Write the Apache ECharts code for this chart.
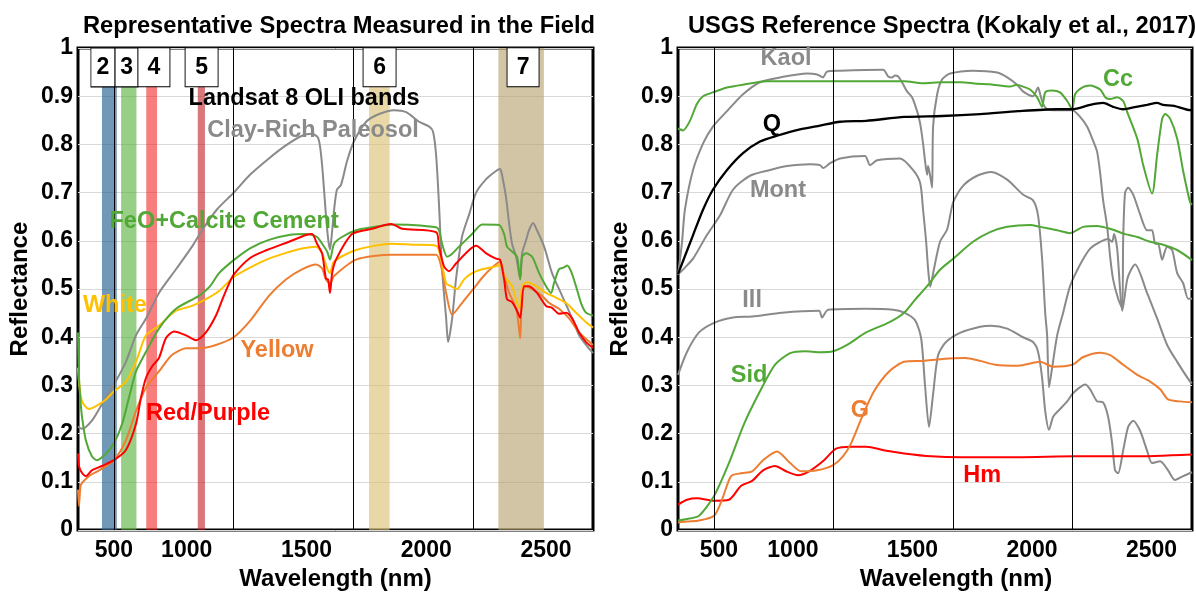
<!DOCTYPE html>
<html>
<head>
<meta charset="utf-8">
<script src="https://cdn.jsdelivr.net/npm/echarts@6/dist/echarts.min.js"></script>
<style>
  html, body { margin: 0; padding: 0; background: #fff; }
  #chart { width: 1196px; height: 596px; }
</style>
</head>
<body>
<div id="chart"></div>
<script>
// ---------- data: wavelength (nm) / reflectance pairs ----------
const WL_TICKS = [500, 1000, 1500, 2000, 2500];
const WL_GUIDES = [500, 1000, 1500, 2000];

// field spectra
const PALEOSOL = [[350,0.215],[367,0.21],[408,0.227],[450,0.261],[500,0.302],[550,0.349],[592,0.404],[634,0.439],[688,0.492],[759,0.541],[826,0.588],[868,0.622],[930,0.665],[1000,0.70],[1070,0.738],[1147,0.771],[1218,0.798],[1285,0.818],[1327,0.822],[1352,0.814],[1362,0.79],[1372,0.74],[1384,0.66],[1394,0.605],[1402,0.582],[1410,0.615],[1420,0.668],[1431,0.706],[1448,0.716],[1473,0.765],[1502,0.806],[1553,0.847],[1607,0.863],[1669,0.871],[1720,0.867],[1774,0.847],[1816,0.837],[1832,0.827],[1845,0.778],[1857,0.676],[1870,0.54],[1887,0.439],[1895,0.39],[1912,0.439],[1928,0.52],[1953,0.608],[1983,0.655],[2012,0.70],[2054,0.728],[2095,0.745],[2112,0.749],[2120,0.737],[2137,0.69],[2150,0.635],[2162,0.594],[2179,0.567],[2196,0.522],[2204,0.574],[2221,0.602],[2233,0.622],[2250,0.637],[2266,0.622],[2296,0.588],[2329,0.533],[2371,0.486],[2413,0.439],[2442,0.404],[2471,0.384],[2500,0.367]];
const CEMENT = [[350,0.41],[354,0.32],[360,0.27],[367,0.234],[383,0.186],[408,0.153],[429,0.145],[467,0.159],[500,0.18],[534,0.22],[563,0.275],[592,0.329],[634,0.37],[688,0.418],[759,0.459],[855,0.486],[900,0.505],[939,0.533],[1000,0.56],[1070,0.585],[1147,0.602],[1231,0.612],[1302,0.614],[1348,0.608],[1369,0.594],[1390,0.578],[1402,0.561],[1419,0.594],[1452,0.608],[1511,0.622],[1578,0.628],[1661,0.634],[1745,0.633],[1845,0.628],[1857,0.622],[1870,0.594],[1891,0.567],[1907,0.571],[1941,0.588],[1995,0.614],[2037,0.634],[2108,0.633],[2129,0.614],[2141,0.588],[2162,0.578],[2183,0.567],[2196,0.52],[2204,0.567],[2221,0.574],[2246,0.567],[2275,0.533],[2304,0.506],[2325,0.492],[2337,0.512],[2358,0.541],[2379,0.545],[2392,0.549],[2408,0.537],[2429,0.506],[2450,0.471],[2471,0.451],[2500,0.445]];
const RED_PURPLE = [[350,0.159],[354,0.133],[365,0.12],[383,0.112],[408,0.124],[450,0.133],[500,0.145],[550,0.166],[592,0.22],[613,0.275],[634,0.316],[660,0.34],[688,0.357],[717,0.398],[751,0.412],[801,0.404],[843,0.394],[884,0.41],[926,0.445],[950,0.475],[975,0.505],[1000,0.53],[1070,0.565],[1139,0.581],[1231,0.598],[1302,0.612],[1327,0.614],[1348,0.594],[1369,0.574],[1385,0.522],[1394,0.52],[1402,0.492],[1411,0.533],[1427,0.561],[1494,0.614],[1578,0.625],[1657,0.635],[1703,0.625],[1845,0.618],[1857,0.588],[1878,0.547],[1899,0.537],[1928,0.553],[1983,0.581],[2012,0.59],[2054,0.574],[2095,0.563],[2112,0.561],[2129,0.52],[2141,0.479],[2162,0.473],[2179,0.459],[2196,0.44],[2212,0.506],[2233,0.506],[2266,0.492],[2304,0.465],[2329,0.461],[2358,0.449],[2388,0.451],[2413,0.439],[2442,0.41],[2471,0.39],[2500,0.378]];
const WHITE = [[350,0.337],[354,0.308],[367,0.267],[396,0.251],[425,0.257],[467,0.271],[500,0.288],[550,0.308],[592,0.349],[634,0.404],[688,0.424],[759,0.455],[826,0.465],[884,0.479],[939,0.496],[1000,0.525],[1070,0.545],[1147,0.563],[1218,0.575],[1285,0.584],[1344,0.588],[1369,0.574],[1390,0.543],[1402,0.533],[1419,0.557],[1511,0.581],[1661,0.594],[1745,0.592],[1845,0.59],[1866,0.561],[1887,0.512],[1907,0.506],[1932,0.50],[1962,0.52],[1995,0.533],[2037,0.541],[2095,0.547],[2112,0.551],[2129,0.527],[2162,0.506],[2183,0.471],[2196,0.459],[2204,0.506],[2225,0.514],[2262,0.506],[2304,0.492],[2346,0.482],[2388,0.471],[2429,0.451],[2471,0.431],[2500,0.42]];
const YELLOW = [[350,0.084],[354,0.05],[360,0.09],[367,0.098],[396,0.112],[438,0.124],[500,0.145],[550,0.186],[592,0.247],[634,0.296],[688,0.329],[742,0.363],[801,0.377],[855,0.377],[926,0.384],[1000,0.40],[1070,0.435],[1147,0.486],[1218,0.52],[1285,0.541],[1344,0.551],[1369,0.543],[1385,0.52],[1402,0.512],[1419,0.527],[1511,0.561],[1661,0.571],[1845,0.571],[1866,0.547],[1887,0.492],[1912,0.447],[1953,0.471],[2000,0.50],[2040,0.525],[2080,0.545],[2112,0.557],[2129,0.527],[2150,0.492],[2170,0.471],[2183,0.451],[2196,0.398],[2204,0.492],[2221,0.506],[2246,0.50],[2287,0.486],[2317,0.471],[2358,0.459],[2400,0.439],[2442,0.41],[2500,0.384]];

// Landsat 8 OLI band limits (nm) and their numbers
const OLI_BANDS = [[450,512],[530,594],[635,680],[850,880],[1565,1651],[2105,2295]];
const OLI_NUMS = ['2','3','4','5','6','7'];
const OLI_TAG_WL = [454,553,667,866,1609,2208];

// USGS library spectra
const KAOL = [[350,0.53],[358,0.56],[367,0.598],[379,0.665],[413,0.747],[455,0.802],[496,0.837],[555,0.869],[622,0.904],[693,0.929],[777,0.939],[890,0.947],[932,0.945],[957,0.939],[973,0.951],[1028,0.953],[1208,0.955],[1229,0.941],[1245,0.939],[1258,0.943],[1271,0.941],[1287,0.929],[1308,0.91],[1329,0.898],[1350,0.869],[1363,0.843],[1375,0.802],[1383,0.767],[1392,0.737],[1396,0.755],[1404,0.737],[1413,0.71],[1417,0.837],[1434,0.904],[1455,0.935],[1488,0.947],[1584,0.953],[1685,0.949],[1727,0.939],[1768,0.924],[1793,0.91],[1835,0.9],[1856,0.918],[1865,0.904],[1877,0.884],[1894,0.873],[1936,0.871],[1999,0.871],[2032,0.857],[2061,0.837],[2086,0.808],[2103,0.785],[2116,0.74],[2128,0.685],[2145,0.63],[2158,0.565],[2170,0.52],[2191,0.48],[2208,0.46],[2212,0.6],[2220,0.70],[2233,0.71],[2254,0.696],[2283,0.655],[2312,0.622],[2333,0.622],[2346,0.594],[2358,0.594],[2375,0.561],[2396,0.588],[2417,0.581],[2438,0.533],[2463,0.512],[2484,0.48],[2500,0.48]];
const MONT = [[350,0.53],[380,0.545],[413,0.563],[471,0.612],[526,0.653],[580,0.706],[651,0.735],[735,0.747],[806,0.755],[902,0.759],[944,0.757],[957,0.751],[986,0.761],[1028,0.771],[1132,0.776],[1153,0.757],[1183,0.767],[1279,0.771],[1333,0.747],[1363,0.72],[1375,0.665],[1388,0.598],[1396,0.543],[1405,0.505],[1420,0.54],[1446,0.598],[1476,0.624],[1501,0.68],[1542,0.714],[1601,0.735],[1660,0.743],[1727,0.727],[1793,0.696],[1835,0.684],[1856,0.653],[1873,0.563],[1886,0.45],[1894,0.404],[1902,0.296],[1915,0.337],[1936,0.404],[1961,0.451],[1990,0.506],[2032,0.551],[2074,0.584],[2116,0.598],[2149,0.604],[2166,0.598],[2174,0.614],[2187,0.584],[2199,0.5],[2208,0.455],[2229,0.52],[2245,0.54],[2262,0.551],[2312,0.492],[2354,0.439],[2396,0.384],[2438,0.349],[2492,0.308],[2500,0.305]];
const ILL = [[350,0.322],[388,0.37],[438,0.41],[501,0.43],[580,0.441],[660,0.443],[785,0.451],[940,0.455],[952,0.441],[978,0.457],[1137,0.459],[1250,0.457],[1296,0.451],[1342,0.435],[1367,0.398],[1383,0.302],[1400,0.214],[1417,0.282],[1438,0.363],[1471,0.39],[1534,0.41],[1614,0.422],[1660,0.424],[1727,0.418],[1793,0.40],[1835,0.39],[1856,0.37],[1873,0.316],[1886,0.247],[1902,0.208],[1919,0.235],[1940,0.247],[1978,0.267],[1999,0.282],[2020,0.292],[2053,0.302],[2074,0.292],[2103,0.267],[2128,0.265],[2149,0.235],[2166,0.18],[2178,0.124],[2191,0.118],[2212,0.165],[2233,0.214],[2254,0.227],[2283,0.206],[2312,0.165],[2333,0.139],[2367,0.143],[2400,0.124],[2429,0.104],[2463,0.112],[2500,0.12]];
const SID = [[350,0.02],[388,0.023],[438,0.03],[501,0.071],[563,0.139],[626,0.22],[693,0.288],[756,0.343],[819,0.367],[881,0.371],[944,0.369],[999,0.371],[1057,0.384],[1137,0.41],[1233,0.431],[1296,0.451],[1342,0.478],[1392,0.506],[1446,0.54],[1501,0.563],[1584,0.598],[1655,0.618],[1727,0.629],[1823,0.633],[1865,0.629],[1936,0.622],[1990,0.616],[2045,0.629],[2103,0.631],[2158,0.625],[2220,0.614],[2271,0.608],[2325,0.598],[2379,0.592],[2438,0.581],[2500,0.56]];
const GOETHITE = [[350,0.016],[388,0.018],[438,0.02],[501,0.03],[534,0.063],[572,0.112],[614,0.118],[660,0.122],[706,0.145],[764,0.163],[819,0.139],[865,0.122],[932,0.124],[999,0.135],[1040,0.153],[1074,0.18],[1120,0.235],[1170,0.288],[1233,0.329],[1296,0.349],[1375,0.351],[1455,0.355],[1551,0.357],[1614,0.351],[1676,0.343],[1773,0.341],[1865,0.349],[1919,0.339],[1999,0.343],[2045,0.359],[2116,0.368],[2158,0.363],[2212,0.343],[2271,0.322],[2325,0.308],[2367,0.292],[2400,0.271],[2450,0.267],[2500,0.265]];
const HEMATITE = [[350,0.053],[388,0.063],[430,0.066],[501,0.061],[563,0.063],[614,0.092],[660,0.102],[706,0.124],[756,0.133],[802,0.122],[852,0.114],[898,0.122],[961,0.145],[1011,0.169],[1074,0.173],[1137,0.173],[1216,0.165],[1296,0.159],[1409,0.153],[1534,0.151],[1773,0.151],[2011,0.153],[2250,0.153],[2500,0.157]];
const CALCITE = [[350,0.833],[371,0.829],[400,0.849],[429,0.884],[455,0.90],[496,0.908],[555,0.918],[622,0.924],[722,0.931],[1028,0.931],[1296,0.931],[1375,0.927],[1455,0.929],[1534,0.929],[1600,0.926],[1655,0.925],[1739,0.92],[1768,0.924],[1793,0.92],[1823,0.914],[1852,0.898],[1873,0.878],[1886,0.908],[1915,0.912],[1948,0.908],[1978,0.89],[1999,0.873],[2011,0.904],[2040,0.918],[2074,0.922],[2116,0.914],[2137,0.898],[2158,0.894],[2187,0.898],[2212,0.89],[2229,0.867],[2271,0.812],[2296,0.757],[2333,0.698],[2354,0.778],[2375,0.853],[2388,0.863],[2409,0.853],[2438,0.812],[2463,0.745],[2492,0.68],[2500,0.675]];
const QUARTZ = [[350,0.531],[413,0.612],[455,0.665],[496,0.706],[555,0.747],[622,0.782],[693,0.806],[764,0.818],[860,0.831],[944,0.839],[1028,0.847],[1137,0.849],[1296,0.857],[1455,0.859],[1614,0.863],[1773,0.869],[1932,0.873],[1999,0.873],[2074,0.882],[2128,0.886],[2170,0.878],[2212,0.873],[2266,0.878],[2312,0.882],[2354,0.886],[2379,0.882],[2425,0.88],[2492,0.871],[2500,0.872]];

// ---------- styling ----------
const FONT = "'Liberation Sans', Arial, sans-serif";
const GRAY = '#8a8a8a', GREEN = '#52a836', RED = '#ff0000', GOLD = '#ffc000', ORANGE = '#ed7d31';
const BAND_COLORS = ['rgba(40,100,145,0.66)','rgba(77,172,47,0.58)','rgba(242,20,20,0.55)','rgba(188,22,27,0.58)','rgba(217,190,110,0.6)','rgba(178,158,105,0.6)'];
const TAG_WIDTHS = [24, 23, 32, 33, 33, 32];

// in-plot captions: [text, wavelength, reflectance, colour]
const LEFT_CAPTIONS = [
  ['Landsat 8 OLI bands', 1294, 0.896, '#000'],
  ['Clay-Rich Paleosol', 1331, 0.829, GRAY],
  ['FeO+Calcite Cement', 960, 0.641, GREEN],
  ['White', 504, 0.465, GOLD],
  ['Yellow', 1181, 0.373, ORANGE],
  ['Red/Purple', 893, 0.241, RED]
];
const RIGHT_CAPTIONS = [
  ['Kaol', 802, 0.978, GRAY],
  ['Cc', 2191, 0.935, GREEN],
  ['Q', 743, 0.841, '#000'],
  ['Mont', 768, 0.704, GRAY],
  ['Ill', 660, 0.476, GRAY],
  ['Sid', 647, 0.320, GREEN],
  ['G', 1111, 0.249, ORANGE],
  ['Hm', 1622, 0.114, RED]
];

const txt = (size, color) => ({ fontFamily: FONT, fontWeight: 'bold', fontSize: size, color: color || '#000' });

function xAxisFor(idx, shiftRich, nameShift) {
  return {
    type: 'value', gridIndex: idx, min: 350, max: 2500, interval: 50,
    axisLine: { show: false }, axisTick: { show: false }, splitLine: { show: false },
    axisLabel: Object.assign(txt(23), {
      margin: 9,
      formatter: v => {
        if (WL_TICKS.indexOf(v) < 0) return '';
        return v === 500 ? '{a|' + v + '}' : '{b|' + v + '}';
      },
      rich: shiftRich
    }),
    name: 'Wavelength (nm)', nameLocation: 'middle', nameGap: 36,
    nameTextStyle: Object.assign(txt(24), { padding: nameShift })
  };
}
function yAxisFor(idx) {
  return {
    type: 'value', gridIndex: idx, min: 0, max: 1, interval: 0.1,
    axisLine: { show: false }, axisTick: { show: false },
    splitLine: { show: true, lineStyle: { color: '#d9d9d9', width: 1 } },
    axisLabel: Object.assign(txt(23), { margin: 5, formatter: v => String(Math.round(v * 10) / 10) }),
    name: 'Reflectance', nameLocation: 'middle', nameGap: 46,
    nameTextStyle: txt(24)
  };
}
function curve(idx, data, color, width) {
  return {
    type: 'line', xAxisIndex: idx, yAxisIndex: idx, data: data,
    showSymbol: false, smooth: 0.25, z: 3,
    lineStyle: { color: color, width: width || 2 }, emphasis: { disabled: true }
  };
}
function guides(idx) {
  return {
    type: 'line', xAxisIndex: idx, yAxisIndex: idx, data: [], z: 2, silent: true,
    markLine: {
      silent: true, symbol: 'none', label: { show: false }, animation: false,
      lineStyle: { color: '#000', width: 1, type: 'solid' },
      data: WL_GUIDES.map(v => ({ xAxis: v }))
    }
  };
}
function captions(idx, list) {
  return {
    type: 'scatter', xAxisIndex: idx, yAxisIndex: idx, symbolSize: 0, z: 10, silent: true,
    itemStyle: { opacity: 1 },
    data: list.map(c => ({
      value: [c[1], c[2]],
      label: { show: true, position: 'inside', opacity: 1, formatter: c[0], ...txt(23.5, c[3]) }
    }))
  };
}

const option = {
  animation: false,
  backgroundColor: '#fff',
  title: [
    { text: 'Representative Spectra Measured in the Field', left: 334, top: 9, textAlign: 'center', textStyle: txt(23.7) },
    { text: 'USGS Reference Spectra (Kokaly et al., 2017)', left: 937, top: 9, textAlign: 'center', textStyle: txt(23.7) }
  ],
  grid: [
    { left: 78, top: 48, width: 515, height: 490, show: true, borderColor: '#000', borderWidth: 3, backgroundColor: 'transparent' },
    { left: 678, top: 48, width: 514, height: 490, show: true, borderColor: '#000', borderWidth: 3, backgroundColor: 'transparent' }
  ],
  xAxis: [
    xAxisFor(0, { a: txt(23), b: Object.assign(txt(23), { padding: [0, 94, 0, 0] }) }, [0, 0, 0, 0]),
    xAxisFor(1, { a: Object.assign(txt(23), { padding: [0, 0, 0, 10] }), b: Object.assign(txt(23), { padding: [0, 81, 0, 0] }) }, [0, 0, 0, 42])
  ],
  yAxis: [yAxisFor(0), yAxisFor(1)],
  series: [
    guides(0),
    curve(0, PALEOSOL, GRAY),
    curve(0, YELLOW, ORANGE),
    curve(0, WHITE, GOLD),
    curve(0, CEMENT, GREEN),
    curve(0, RED_PURPLE, RED),
    {
      // Landsat 8 OLI band windows
      type: 'line', xAxisIndex: 0, yAxisIndex: 0, data: [], z: 4, silent: true,
      markArea: {
        silent: true,
        data: OLI_BANDS.map((b, i) => [
          { xAxis: b[0], itemStyle: { color: BAND_COLORS[i] } },
          { xAxis: b[1] }
        ])
      }
    },
    {
      // band number tags
      type: 'scatter', xAxisIndex: 0, yAxisIndex: 0, z: 8, silent: true,
      symbol: 'rect',
      data: OLI_NUMS.map((n, i) => ({
        value: [OLI_TAG_WL[i], 0.96], name: n,
        symbolSize: [TAG_WIDTHS[i], 39]
      })),
      itemStyle: { color: '#fff', borderColor: '#000', borderWidth: 1, opacity: 1 },
      label: Object.assign(txt(23), { show: true, position: 'inside', formatter: p => p.name })
    },
    captions(0, LEFT_CAPTIONS),

    guides(1),
    curve(1, ILL, GRAY),
    curve(1, MONT, GRAY),
    curve(1, KAOL, GRAY),
    curve(1, HEMATITE, RED),
    curve(1, GOETHITE, ORANGE),
    curve(1, SID, GREEN),
    curve(1, CALCITE, GREEN),
    curve(1, QUARTZ, '#000', 2.3),
    captions(1, RIGHT_CAPTIONS)
  ]
};

const chart = echarts.init(document.getElementById('chart'), null, { renderer: 'canvas' });
chart.setOption(option);
</script>
</body>
</html>
